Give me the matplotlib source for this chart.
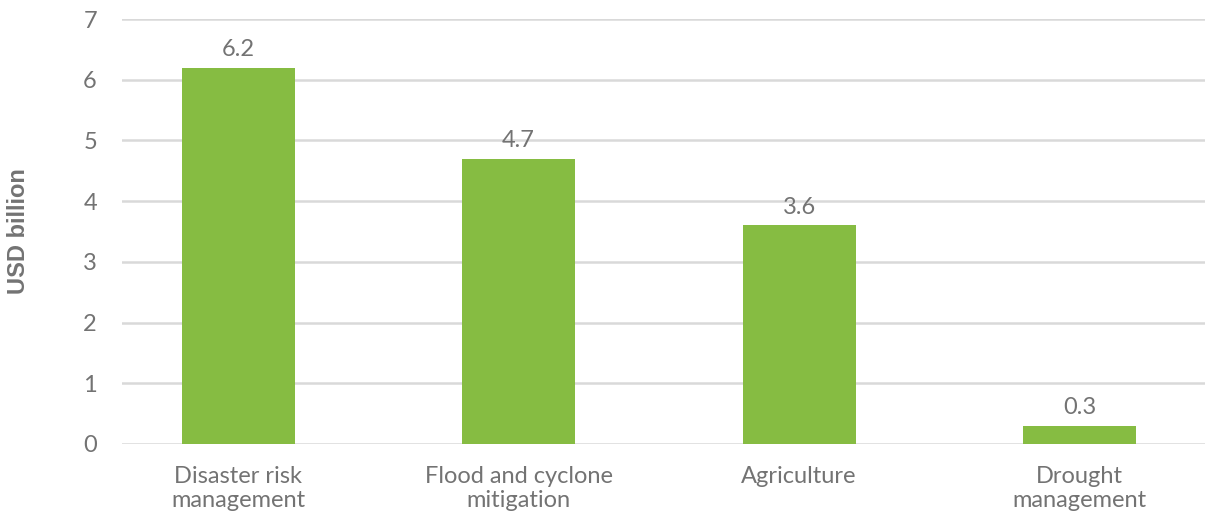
import matplotlib.pyplot as plt

categories = ["Disaster risk\nmanagement", "Flood and cyclone\nmitigation",
              "Agriculture", "Drought\nmanagement"]
values = [6.2, 4.7, 3.6, 0.3]
yticks = [0, 1, 2, 3, 4, 5, 6, 7]

green = "#86BC42"
grey = "#737373"

plt.rcParams['font.family'] = ['Lato', 'DejaVu Sans']

fig = plt.figure(figsize=(12.05, 5.14), dpi=100)
ax = fig.add_axes([0.1012, 0.1362, 0.8988, 0.8268])

pos = range(len(categories))
bars = ax.bar(pos, values, width=0.403, color=green, zorder=3)
for b, v in zip(bars, values):
    ax.annotate(f"{v:.1f}", (b.get_x() + b.get_width() / 2, v),
                xytext=(0, 8.5), textcoords="offset points",
                ha="center", va="baseline", fontsize=17, color=grey)

ax.set_xlim(-0.414, 3.447)
ax.set_ylim(0, 7)
ax.set_yticks(yticks)
ax.set_xticks(list(pos))
ax.set_xticklabels(categories, fontsize=17, color=grey, linespacing=1.15)
ax.tick_params(axis="y", labelsize=17, labelcolor=grey, length=0, pad=18)
ax.tick_params(axis="x", length=0, pad=16)
ax.yaxis.grid(True, color="#D9D9D9", linewidth=1.8, zorder=0)
for s in ax.spines.values():
    s.set_visible(False)

fig.text(0.0154, 0.55, "USD billion", rotation=90, ha="center", va="center",
         fontsize=17, fontweight="bold", color=grey,
         family=["Liberation Sans", "DejaVu Sans"])

fig.savefig("out.png", dpi=100)
